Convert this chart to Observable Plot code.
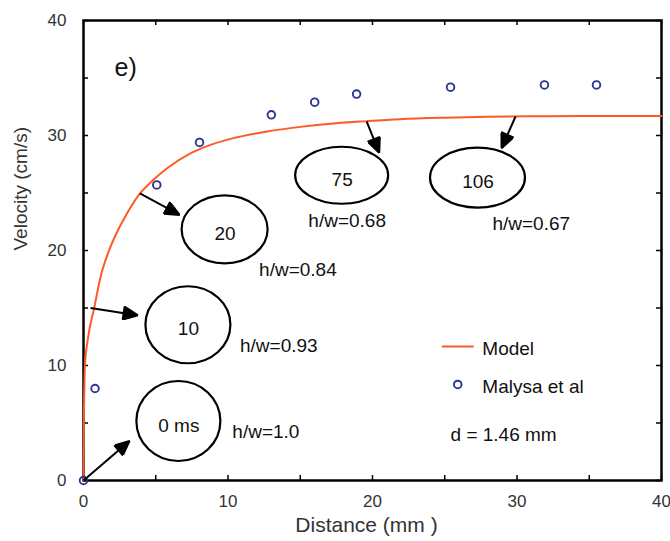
<!DOCTYPE html>
<html>
<head>
<meta charset="utf-8">
<script src="https://cdn.jsdelivr.net/npm/d3@7"></script>
<script src="https://cdn.jsdelivr.net/npm/@observablehq/plot@0.6"></script>
<style>
  html, body { margin: 0; padding: 0; background: #fff; }
  #chart svg { display: block; }
</style>
</head>
<body>
<div id="chart"></div>
<script>
// ---- Data ----
const modelX = [0, 0.02, 0.1, 0.3, 0.74, 1.2, 1.77, 2.4, 3.0, 3.87, 4.8, 5.83, 7.4, 8.6, 10.3, 12.7, 15, 17.3, 19.6, 21.9, 25, 28, 32, 36, 40];
const modelY = [0, 4.3, 10, 12.3, 15, 17.8, 20, 21.8, 23.2, 24.9, 26.1, 27.2, 28.45, 29.1, 29.75, 30.35, 30.75, 31.05, 31.25, 31.42, 31.55, 31.63, 31.68, 31.7, 31.7];

const expX = [0, 0.8, 5.07, 8.03, 13.0, 16.0, 18.9, 25.4, 31.9, 35.5];
const expY = [0, 8.0, 25.7, 29.4, 31.8, 32.9, 33.6, 34.2, 34.4, 34.4];

const xTickLabels = [0, 10, 20, 30, 40];
const yTickLabels = [0, 10, 20, 30, 40];
const minorTicks = [0, 5, 10, 15, 20, 25, 30, 35, 40];

// bubble snapshots (time label, centre in data coords)
const bubbleLabels = ["0 ms", "10", "20", "75", "106"];
const bubbleX = [6.6, 7.26, 9.8, 17.9, 27.3];
const bubbleY = [5.13, 13.5, 21.8, 26.5, 26.3];

// aspect-ratio labels
const ratioLabels = ["h/w=1.0", "h/w=0.93", "h/w=0.84", "h/w=0.68", "h/w=0.67"];
const ratioX = [10.3, 10.83, 12.15, 15.56, 28.3];
const ratioY = [4.26, 11.74, 18.35, 22.6, 22.35];

// arrows from curve to bubbles
const arrowX1 = [0, 0.49, 3.9, 19.6, 29.9];
const arrowY1 = [0, 15.0, 24.96, 31.2, 31.65];
const arrowX2 = [3.06, 3.6, 6.5, 20.4, 29.0];
const arrowY2 = [3.3, 14.4, 23.2, 28.7, 29.1];

// ---- Build tables ----
const model = modelX.map((x, i) => ({x, y: modelY[i]}));
const exp = expX.map((x, i) => ({x, y: expY[i]}));
const bubbles = bubbleLabels.map((label, i) => ({label, x: bubbleX[i], y: bubbleY[i]}));
const ratios = ratioLabels.map((label, i) => ({label, x: ratioX[i], y: ratioY[i]}));
const arrows = arrowX1.map((x1, i) => ({x1, y1: arrowY1[i], x2: arrowX2[i], y2: arrowY2[i]}));

// ellipse pixel radii (drawing geometry)
const ellipseR = [[42, 40], [42.5, 38.5], [43, 34], [46.5, 28.5], [47.5, 30]];

const modelColor = "#ff5a26";
const dotColor = "#2b3593";
const font = "Liberation Sans, Arial, Helvetica, sans-serif";

const W = 670, H = 541;
const mL = 83, mR = 9, mT = 20, mB = 61;
const plotH = H - mT - mB, plotW = W - mL - mR;
const tickLen = 5;
const annoSize = 19;

function triangleMarker(color, context) {
  const m = d3.create("svg:marker")
    .attr("viewBox", "-14 -7 17 14")
    .attr("markerWidth", 17)
    .attr("markerHeight", 14)
    .attr("markerUnits", "userSpaceOnUse")
    .attr("refX", 0).attr("refY", 0)
    .attr("orient", "auto");
  m.append("path").attr("d", "M-12,-6.5L2.5,0L-12,6.5Z").attr("fill", "#000");
  return m.node();
}

function ellipsesRender(index, scales) {
  const g = d3.create("svg:g");
  bubbles.forEach((b, i) => {
    g.append("ellipse")
      .attr("cx", scales.x(b.x))
      .attr("cy", scales.y(b.y))
      .attr("rx", ellipseR[i][0])
      .attr("ry", ellipseR[i][1])
      .attr("fill", "none")
      .attr("stroke", "#000")
      .attr("stroke-width", 2.2);
  });
  return g.node();
}

const chart = Plot.plot({
  width: W,
  height: H,
  marginLeft: mL,
  marginRight: mR,
  marginTop: mT,
  marginBottom: mB,
  style: {fontFamily: font, background: "#fff", color: "#000"},
  x: {domain: [0, 40]},
  y: {domain: [0, 40]},
  marks: [
    // inward ticks on all four sides
    Plot.tickX(minorTicks, {x: d => d, insetTop: plotH - tickLen, stroke: "#000", strokeWidth: 1.5}),
    Plot.tickX(minorTicks, {x: d => d, insetBottom: plotH - tickLen, stroke: "#000", strokeWidth: 1.5}),
    Plot.tickY(minorTicks, {y: d => d, insetRight: plotW - tickLen, stroke: "#000", strokeWidth: 1.5}),
    Plot.tickY(minorTicks, {y: d => d, insetLeft: plotW - tickLen, stroke: "#000", strokeWidth: 1.5}),
    Plot.axisX({ticks: xTickLabels, tickSize: 0, tickPadding: 14, fontSize: 17, fill: "#333", label: null}),
    Plot.axisY({ticks: yTickLabels, tickSize: 0, tickPadding: 17, fontSize: 17, fill: "#333", label: null}),
    Plot.frame({stroke: "#000", strokeWidth: 2.5}),
    // axis titles
    Plot.text(["Velocity (cm/s)"], {frameAnchor: "left", dx: -63, rotate: -90, fontSize: 19, fill: "#333"}),
    Plot.text(["Distance (mm )"], {frameAnchor: "bottom", dx: -6, dy: 51, fontSize: 21, fill: "#333"}),
    // model and data
    Plot.line(model, {x: "x", y: "y", stroke: modelColor, strokeWidth: 2, curve: "monotone-x"}),
    Plot.dot(exp, {x: "x", y: "y", r: 3.8, stroke: dotColor, strokeWidth: 1.9, fill: "none"}),
    // bubbles and annotations
    ellipsesRender,
    Plot.text(bubbles, {x: "x", y: "y", text: "label", dy: 4, fontSize: annoSize, fill: "#111"}),
    Plot.text(ratios, {x: "x", y: "y", text: "label", textAnchor: "start", fontSize: annoSize, fill: "#111"}),
    Plot.link(arrows, {x1: "x1", y1: "y1", x2: "x2", y2: "y2", stroke: "#000", strokeWidth: 2, markerEnd: triangleMarker}),
    Plot.text(["e)"], {x: () => 2.15, y: () => 35.9, textAnchor: "start", fontSize: 25, fill: "#111"}),
    // legend
    Plot.link([{x1: 24.8, x2: 27.0, y: 11.65}], {x1: "x1", x2: "x2", y1: "y", y2: "y", stroke: modelColor, strokeWidth: 2}),
    Plot.text(["Model"], {x: () => 27.6, y: () => 11.4, textAnchor: "start", fontSize: annoSize, fill: "#111"}),
    Plot.dot([{x: 25.9, y: 8.35}], {x: "x", y: "y", r: 3.8, stroke: dotColor, strokeWidth: 1.9, fill: "none"}),
    Plot.text(["Malysa et al"], {x: () => 27.6, y: () => 8.1, textAnchor: "start", fontSize: annoSize, fill: "#111"}),
    Plot.text(["d = 1.46 mm"], {x: () => 25.4, y: () => 4.0, textAnchor: "start", fontSize: annoSize, fill: "#111"})
  ]
});

document.getElementById("chart").appendChild(chart);
</script>
</body>
</html>
